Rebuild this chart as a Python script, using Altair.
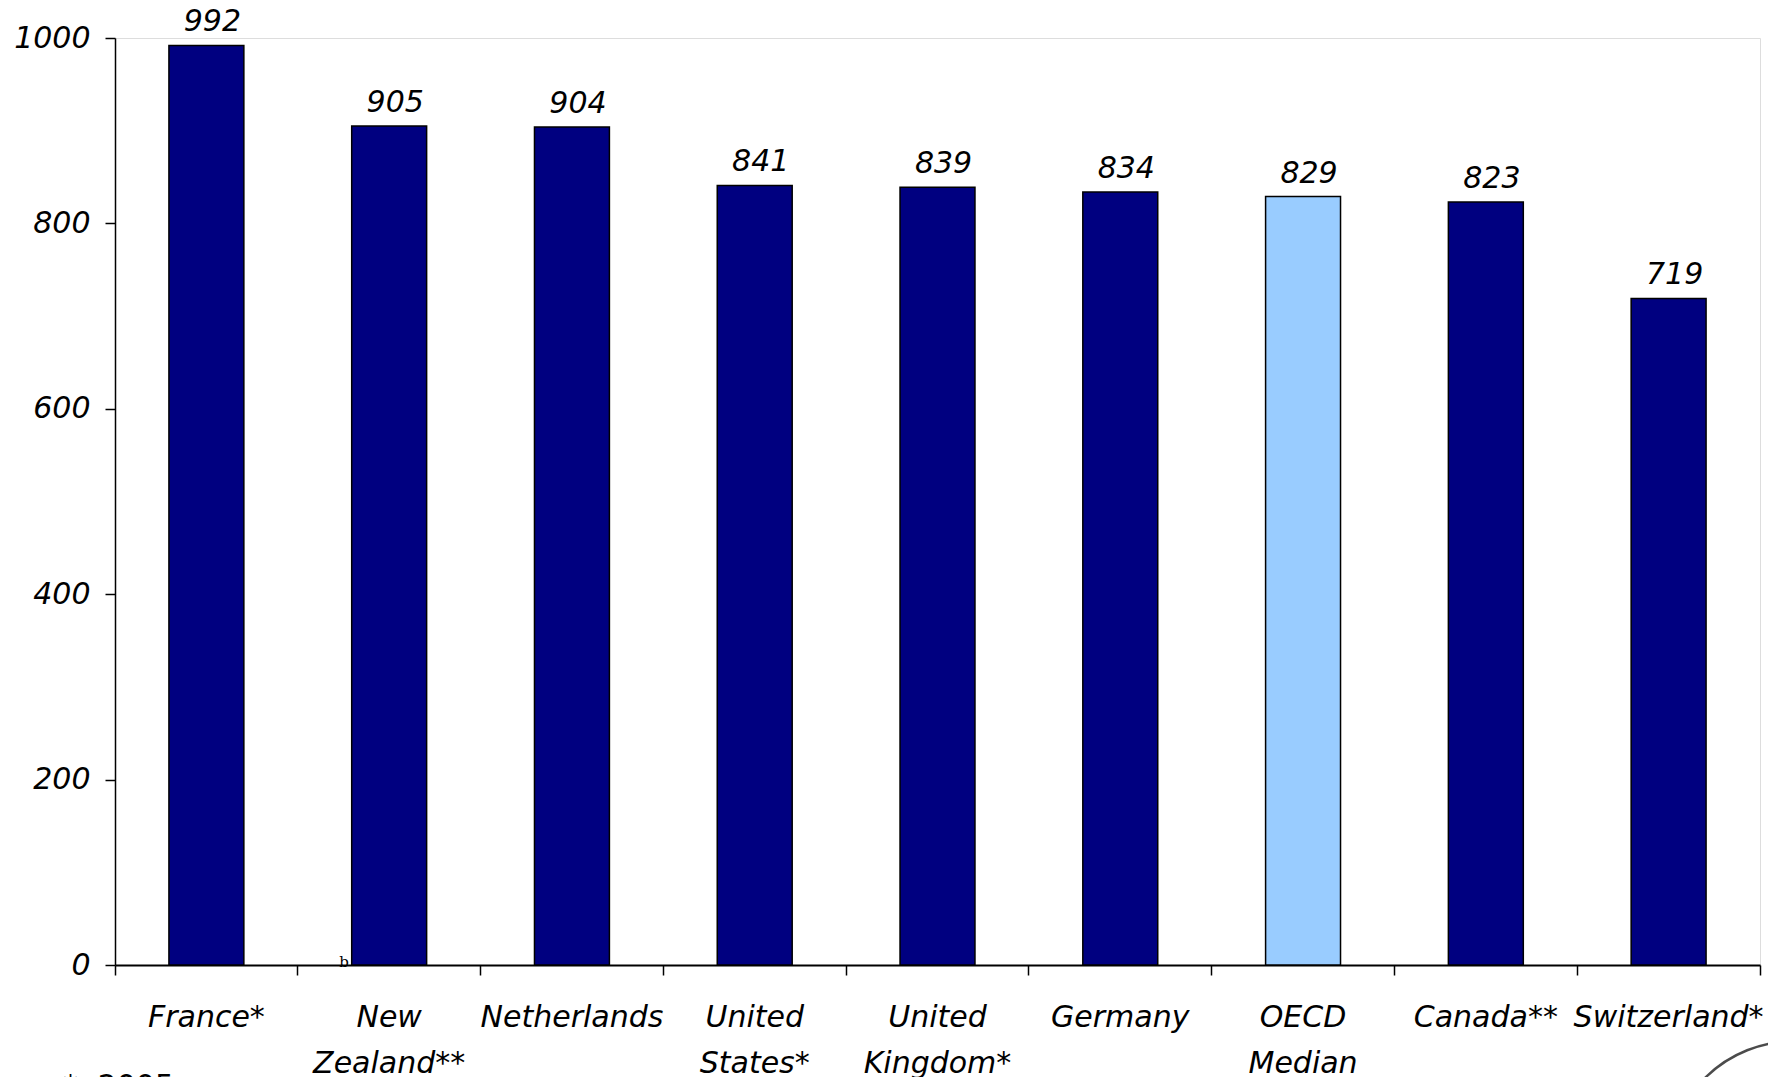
import altair as alt
import pandas as pd

countries = ["France*", "New|Zealand**", "Netherlands", "United|States*", "United|Kingdom*",
             "Germany", "OECD|Median", "Canada**", "Switzerland*"]
values = [992, 905, 904, 841, 839, 834, 829, 823, 719]
is_median = [False, False, False, False, False, False, True, False, False]
y_ticks = [0, 200, 400, 600, 800, 1000]
footnote = "*: 2005"

df = pd.DataFrame({"country": countries, "value": values, "median": is_median})

FONT = "DejaVu Sans"
FS = 30
W, H = 1645, 927

x_enc = alt.X("country:N", sort=countries, title=None,
              scale=alt.Scale(paddingInner=0, paddingOuter=0),
              axis=alt.Axis(bandPosition=1, tickExtra=True, labelAngle=0,
                            labelExpr="split(datum.label, '|')",
                            labelFont=FONT, labelFontStyle="italic", labelFontSize=FS,
                            labelColor="black", labelLineHeight=46, labelBaseline="top",
                            labelPadding=27, tickSize=10, tickColor="black", tickWidth=1.5,
                            domainColor="black", domainWidth=2, grid=False, labelLimit=400))

y_enc = alt.Y("value:Q", title=None,
              scale=alt.Scale(domain=[0, 1000], nice=False),
              axis=alt.Axis(values=y_ticks, format="d", labelFont=FONT, labelFontStyle="italic",
                            labelFontSize=FS, labelColor="black", labelPadding=15,
                            tickSize=10, tickColor="black", tickWidth=1.5,
                            domainColor="black", domainWidth=1.5, grid=False))

bars = alt.Chart(df).mark_bar(width=alt.RelativeBandSize(0.41), stroke="black",
                              strokeWidth=1.5).encode(
    x=x_enc, y=y_enc,
    color=alt.Color("median:N", scale=alt.Scale(domain=[False, True],
                                                  range=["#000080", "#99CCFF"]), legend=None),
)

labels = alt.Chart(df).mark_text(font=FONT, fontStyle="italic", fontSize=FS, color="black",
                                 baseline="alphabetic", dy=-14, dx=6).encode(
    x=alt.X("country:N", sort=countries), y="value:Q", text="value:Q")

note_df = pd.DataFrame({"t": [footnote]})
note = alt.Chart(note_df).mark_text(font=FONT, fontSize=FS, color="black", align="left",
                                    baseline="top").encode(
    x=alt.value(-52), y=alt.value(1034), text="t:N")

b_df = pd.DataFrame({"t": ["b"]})
bmark = alt.Chart(b_df).mark_text(font="DejaVu Serif", fontSize=15, color="black",
                                  align="center", baseline="middle").encode(
    x=alt.value(229), y=alt.value(924), text="t:N")

circ_df = pd.DataFrame({"t": ["logo"]})
circle = alt.Chart(circ_df).mark_point(shape="circle", filled=False, stroke="black",
                                       strokeWidth=2.5, size=62000, clip=False).encode(
    x=alt.value(1678), y=alt.value(1128))

chart = alt.layer(bars, labels, note, bmark, circle).properties(
    width=W, height=H,
    autosize=alt.AutoSizeParams(type="none"),
    padding={"left": 107, "top": 30, "right": 8, "bottom": 112},
).configure_view(stroke=None).configure(background="white")

chart.save("out.html", embed_options={"renderer": "svg", "actions": False})
